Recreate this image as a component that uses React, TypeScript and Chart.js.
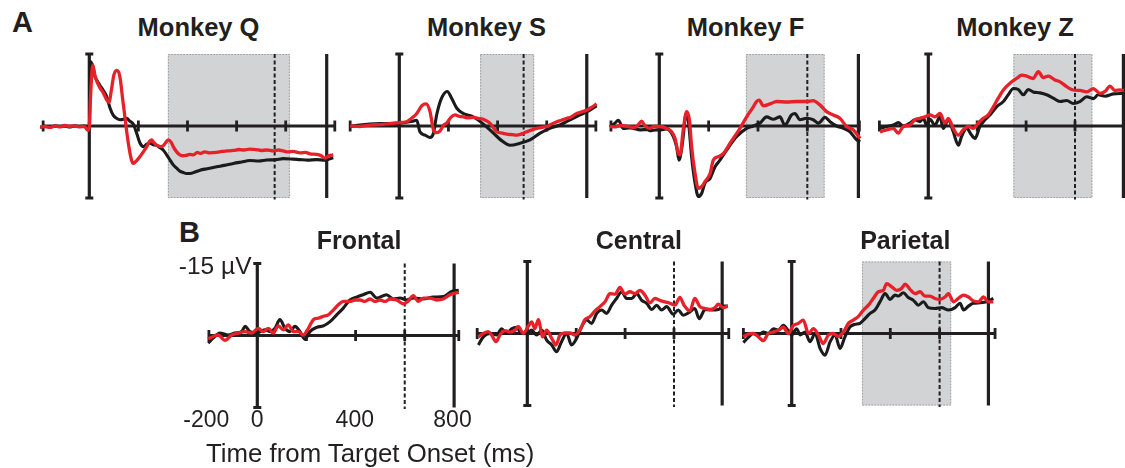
import React, { useEffect, useRef } from "react";
import { Chart, registerables } from "chart.js";

Chart.register(...registerables);

// ---------------- DATA (time in ms, amplitude in µV; negative is plotted upward) ----------------
// Monkey Q
const qRedT = [-200,-180,-160,-140,-120,-100,-80,-60,-40,-20,-6,0,5,14,23,30,43,57,71,80,90,100,111,120,127,135,145,159,172,179,193,206,220,234,247,254,262,274,290,301,315,322,335,342,356,369,383,396,410,424,440,451,470,490,519,540,560,587,610,630,654,680,700,722,750,770,790,810,830,858,880,900,926,945,960,975,994];
const qRedV = [0.2,0.1,0.3,0.0,0.2,-0.1,0.1,0.0,0.2,0.1,0.9,0.2,-6.0,-12.7,-10.5,-9.4,-8.0,-6.9,-5.4,-4.9,-7.5,-10.6,-11.6,-11.2,-9.5,-6.0,-1.9,3.6,7.1,7.8,7.2,6.4,5.4,4.3,3.1,2.9,3.4,4.0,4.3,4.1,3.2,2.9,3.5,4.3,5.4,6.0,6.2,6.1,5.9,6.0,5.5,5.7,5.4,5.6,5.5,5.3,5.2,5.1,4.9,5.0,4.8,4.9,5.1,5.0,5.2,5.0,5.2,5.4,5.3,5.6,5.5,5.8,5.9,6.2,6.7,6.2,6.0];
const qBlackT = [-200,-180,-160,-140,-120,-100,-80,-60,-40,-20,0,5,14,23,30,43,57,71,84,98,111,125,140,152,165,179,193,206,220,234,247,260,274,290,301,315,329,342,356,369,383,396,410,430,451,480,519,550,587,620,654,690,722,760,790,830,858,890,926,960,994];
const qBlackV = [0.3,0.1,0.2,0.0,0.1,0.0,0.2,0.0,0.1,0.0,0.2,-13.4,-12.5,-10.3,-9.6,-8.5,-7.4,-6.1,-3.8,-2.2,-1.6,-1.3,-1.4,-1.6,-1.0,-0.4,1.5,3.5,4.3,3.8,3.6,3.9,4.0,4.6,5.0,6.0,7.1,8.1,8.8,9.4,9.7,9.9,9.9,9.6,9.2,8.9,8.5,8.2,7.8,7.5,7.2,7.3,7.1,7.0,6.8,6.9,7.0,7.1,7.0,7.1,6.6];

// Monkey S
const sRedT = [-200,-160,-120,-80,-40,0,30,50,71,91,109,125,139,152,166,180,193,210,227,245,261,280,301,320,342,369,396,420,437,460,478,500,519,540,559,580,600,620,641,660,681,700,722,740,762,780,803];
const sRedV = [0.0,0.1,-0.2,-0.3,-0.5,-0.7,-0.9,-1.6,-2.6,-4.2,-4.6,-3.0,0.8,1.4,1.0,-0.2,-0.6,-1.8,-2.3,-2.0,-1.9,-1.7,-1.8,-1.6,-1.4,-0.6,1.2,1.5,1.7,1.8,1.9,1.6,1.2,0.8,0.5,0.3,0.1,-0.4,-0.9,-1.2,-1.6,-1.9,-2.6,-2.9,-3.3,-3.8,-4.6];
const sBlackT = [-200,-160,-120,-80,-40,0,30,55,71,84,105,125,139,152,172,195,213,234,261,301,342,383,423,450,491,532,573,613,654,695,736,776,803];
const sBlackV = [0.1,-0.2,-0.4,-0.5,-0.5,-0.6,-0.8,-1.0,-1.2,1.2,1.9,2.4,1.5,-2.3,-5.8,-7.2,-5.8,-3.7,-2.6,-1.9,-0.4,1.5,3.3,4.0,3.6,2.9,1.5,0.5,-0.2,-1.3,-2.3,-3.3,-4.2];

// Monkey F
const fRedT = [-200,-180,-160,-140,-120,-100,-85,-72,-60,-40,-20,0,30,50,64,77,84,97,111,122,131,145,158,172,185,206,219,239,260,287,327,354,381,394,405,422,449,476,516,557,597,624,651,678,705,732,759,786,814];
const fRedV = [0.1,0.2,-0.1,0.0,0.2,0.3,-0.3,-1.0,-0.2,0.5,0.1,0.1,0.5,1.2,2.6,5.7,6.0,0.8,-3.0,-1.3,4.3,9.9,13.0,12.6,11.6,9.9,7.1,6.4,5.7,3.6,0.5,-1.9,-4.0,-5.1,-5.4,-4.2,-4.6,-5.1,-5.0,-5.1,-5.1,-5.3,-4.4,-3.0,-2.3,-1.6,0.1,0.8,2.6];
const fBlackT = [-200,-180,-166,-146,-120,-105,-78,-50,-38,-11,0,30,57,70,80,90,97,108,118,131,145,158,172,185,206,226,246,273,314,354,381,408,435,462,489,509,536,550,570,597,624,645,672,692,719,746,773,800,814];
const fBlackV = [0.2,-0.6,-1.2,0.5,0.4,0.5,0.8,0.7,1.0,0.8,0.8,0.6,2.2,4.3,7.1,5.0,2.2,-2.5,-1.0,6.4,11.9,14.7,14.0,11.9,10.9,8.5,7.1,5.0,2.2,0.5,0.0,-0.6,-1.9,-1.4,-1.9,-0.2,-2.3,-2.6,-1.3,-1.6,-1.3,-0.6,-1.8,-0.9,0.0,0.5,1.2,2.9,3.3];

// Monkey Z
const zRedT = [-198,-170,-143,-123,-102,-75,-55,-34,-14,7,27,48,68,82,102,123,143,164,184,204,225,245,266,286,307,334,361,382,402,429,450,470,491,518,539,566,593,620,648,675,702,723,743,763,784,800];
const zRedV = [1.2,0.8,0.5,1.5,0.1,-0.2,-1.3,-1.6,-1.9,-2.3,-1.9,-2.6,-0.6,-1.6,0.5,1.9,0.8,0.1,0.5,-0.6,-1.6,-2.3,-4.0,-5.8,-7.5,-8.9,-9.9,-10.6,-10.4,-9.9,-11.3,-10.1,-10.4,-9.6,-9.2,-8.2,-7.5,-7.4,-7.1,-7.8,-6.8,-7.2,-8.3,-7.4,-7.5,-7.4];
const zBlackT = [-198,-170,-143,-123,-102,-75,-55,-34,-20,-7,7,27,48,61,82,102,123,136,157,177,191,211,232,252,279,307,327,348,368,389,409,429,457,484,511,539,566,593,620,648,675,695,723,757,798];
const zBlackV = [0.5,0.1,-0.2,-0.7,0.0,-0.6,-1.3,-0.9,-1.6,-0.2,-1.4,-0.2,-1.9,0.5,-1.3,1.2,4.0,2.2,0.5,1.9,2.6,0.1,-1.3,-2.3,-4.0,-5.1,-6.5,-7.8,-7.6,-6.5,-7.6,-7.1,-6.9,-6.5,-5.8,-5.1,-5.3,-4.7,-5.1,-6.1,-5.7,-6.5,-6.2,-6.7,-6.8];

// Frontal
const frRedT = [-200,-179,-159,-132,-104,-77,-50,-23,4,24,45,65,85,106,126,147,167,187,208,228,248,269,289,309,330,350,377,398,418,438,459,479,499,520,540,567,594,615,635,655,676,703,730,757,784,820];
const frRedV = [0.7,0.2,-0.1,1.0,-0.1,-0.5,-0.8,-0.5,-1.5,-0.8,-1.5,-0.5,-2.0,-1.2,-2.2,-0.8,-0.8,-0.1,-1.5,-3.3,-3.6,-4.0,-4.3,-5.3,-6.4,-7.1,-7.1,-7.4,-7.4,-7.1,-7.6,-7.1,-7.4,-7.1,-7.6,-7.4,-6.6,-7.2,-8.3,-7.1,-7.8,-7.8,-7.4,-7.6,-8.5,-9.0];
const frBlackT = [-200,-179,-152,-118,-91,-64,-50,-30,-3,31,52,72,92,113,133,153,174,194,214,242,269,296,323,350,377,404,431,459,486,526,554,581,608,635,676,716,757,791,820];
const frBlackV = [1.6,0.5,-0.5,-0.1,-0.5,-0.8,-1.9,-0.8,-0.5,-1.2,-0.8,-1.5,-3.3,-1.5,-0.8,-1.9,-0.8,0.8,-0.8,-1.7,-2.0,-2.9,-4.3,-5.7,-7.4,-8.0,-8.5,-9.0,-7.8,-8.5,-7.6,-7.8,-7.4,-7.8,-7.6,-8.0,-8.1,-9.2,-9.4];

// Central
const ceRedT = [-200,-180,-160,-146,-128,-112,-91,-71,-50,-37,-16,4,18,31,45,63,79,100,117,134,154,175,195,215,236,256,277,297,318,338,359,379,399,420,440,461,481,502,522,542,563,583,604,624,641,665,685,706,727,747,768,781,802,820];
const ceRedV = [0.7,0.0,-0.4,0.3,1.7,0.3,-0.6,-0.3,-0.7,-1.5,0.0,-1.5,-2.4,-1.0,-2.9,0.7,-0.7,1.0,2.4,0.3,-0.1,-0.1,0.3,-0.7,-2.9,-3.5,-4.7,-5.6,-6.6,-8.3,-8.2,-9.6,-8.2,-8.7,-8.3,-9.0,-8.0,-6.4,-7.3,-6.9,-6.6,-6.3,-5.9,-7.5,-5.9,-4.7,-7.3,-5.6,-5.2,-5.0,-5.4,-6.1,-5.4,-5.7];
const ceBlackT = [-200,-180,-153,-125,-105,-85,-64,-44,-23,-3,18,38,59,79,100,120,140,161,181,202,222,243,263,284,304,324,345,365,386,406,427,447,468,488,509,529,549,570,597,617,638,665,685,703,727,754,781,802,820];
const ceBlackV = [2.4,0.7,0.0,0.3,-1.0,0.0,-1.0,-1.3,0.0,0.0,-0.7,0.3,-0.7,1.4,2.4,3.8,1.7,0.0,2.4,1.0,-1.4,-2.8,-2.1,-4.2,-4.9,-4.2,-5.9,-7.3,-8.7,-7.3,-7.3,-8.3,-6.9,-6.3,-5.0,-5.9,-4.9,-5.6,-4.0,-4.9,-3.8,-4.5,-5.2,-3.1,-5.0,-4.9,-5.0,-5.7,-5.7];

// Parietal
const paRedT = [-196,-176,-156,-135,-115,-95,-74,-54,-34,-14,7,27,47,68,88,108,128,149,169,189,210,230,250,270,291,311,331,352,372,385,406,426,446,460,480,500,521,541,561,581,602,622,636,656,676,697,717,737,757,778,798,818];
const paRedV = [0.7,0.1,0.0,0.7,1.5,0.0,-0.3,-0.7,-1.3,0.0,-1.7,-2.1,-2.8,0.0,-1.0,0.3,2.1,0.3,0.0,0.6,-0.3,-2.1,-2.8,-3.5,-4.9,-5.9,-7.3,-8.7,-9.0,-10.4,-9.7,-9.0,-9.4,-10.3,-9.2,-8.3,-8.7,-7.8,-7.8,-7.3,-7.1,-7.6,-8.3,-6.6,-7.3,-8.0,-7.6,-6.8,-6.6,-7.6,-6.6,-6.6];
const paBlackT = [-196,-176,-156,-135,-115,-95,-74,-54,-34,-14,0,20,34,54,74,95,115,135,156,176,196,216,237,257,277,297,318,338,358,379,399,419,433,453,473,494,514,534,554,581,608,636,663,683,697,717,737,764,791,818];
const paBlackV = [1.9,0.8,0.0,0.3,-0.3,0.0,-1.0,-0.7,-1.7,-0.6,0.3,-1.0,0.3,-0.3,1.7,0.0,3.1,4.5,1.7,0.3,3.1,0.7,-1.4,-1.9,-2.1,-3.1,-4.2,-4.9,-6.6,-8.3,-7.1,-8.0,-7.8,-8.5,-7.5,-6.9,-5.9,-6.6,-5.4,-5.2,-5.4,-4.9,-5.4,-6.3,-4.9,-5.7,-6.3,-6.4,-6.6,-7.3];

// Titles and tick labels
const panelATitles = ["Monkey Q", "Monkey S", "Monkey F", "Monkey Z"];
const panelBTitles = ["Frontal", "Central", "Parietal"];
const xTickLabels = ["-200", "0", "400", "800"];
const yLimitLabel = "-15 µV";
const xAxisTitle = "Time from Target Onset (ms)";

// ---------------- LAYOUT / STYLE ----------------
const RED = "#e6212a";
const BLACK = "#1b1b1b";
const AXIS = "#231f20";
const BOX = "#d1d3d4";
const PX_PER_UV = 4.8;
const FONT = '"Liberation Sans", Arial, Helvetica, sans-serif';

type PanelCfg = {
  key: string;
  redT: number[]; redV: number[]; blackT: number[]; blackV: number[];
  x0: number; y0: number; k: number;
  axisStart: number; axisEnd: number; ticks: number[];
  rightLine: number; dashed: number; box: [number, number] | null;
};

const panels: PanelCfg[] = [
  { key: "Q", redT: qRedT, redV: qRedV, blackT: qBlackT, blackV: qBlackV, x0: 89.3, y0: 126, k: 0.2455, axisStart: -188, axisEnd: 1000, ticks: [200, 400, 600, 800], rightLine: 967, dashed: 755, box: [320, 817] },
  { key: "S", redT: sRedT, redV: sRedV, blackT: sBlackT, blackV: sBlackV, x0: 399.3, y0: 126, k: 0.2457, axisStart: -200, axisEnd: 800, ticks: [200, 400, 600], rightLine: 763, dashed: 506, box: [329, 549] },
  { key: "F", redT: fRedT, redV: fRedV, blackT: fBlackT, blackV: fBlackV, x0: 659.3, y0: 126, k: 0.2467, axisStart: -196, axisEnd: 811, ticks: [200, 400, 600], rightLine: 807, dashed: 600, box: [351, 670] },
  { key: "Z", redT: zRedT, redV: zRedV, blackT: zBlackT, blackV: zBlackV, x0: 928.3, y0: 126, k: 0.2445, axisStart: -200, axisEnd: 800, ticks: [200, 400, 600], rightLine: 798, dashed: 600, box: [348, 671] },
  { key: "Fr", redT: frRedT, redV: frRedV, blackT: frBlackT, blackV: frBlackV, x0: 257.3, y0: 335.5, k: 0.2457, axisStart: -197, axisEnd: 820, ticks: [200, 400, 600], rightLine: 801, dashed: 600, box: null },
  { key: "Ce", redT: ceRedT, redV: ceRedV, blackT: ceBlackT, blackV: ceBlackV, x0: 527.3, y0: 333.5, k: 0.2445, axisStart: -205, axisEnd: 824, ticks: [200, 400, 600], rightLine: 797, dashed: 600, box: null },
  { key: "Pa", redT: paRedT, redV: paRedV, blackT: paBlackT, blackV: paBlackV, x0: 791.7, y0: 333.5, k: 0.2465, axisStart: -196, axisEnd: 825, ticks: [200, 400, 600], rightLine: 798, dashed: 600, box: [285, 647] },
];

function rectFor(p: PanelCfg) {
  const left = Math.floor(p.x0 + (p.axisStart - 25) * p.k);
  const right = Math.min(1125, Math.ceil(p.x0 + (p.axisEnd + 25) * p.k));
  const top = Math.floor(p.y0 - 17 * PX_PER_UV);
  const bottom = Math.ceil(p.y0 + 17 * PX_PER_UV);
  return {
    left, top, w: right - left, h: bottom - top,
    xmin: (left - p.x0) / p.k, xmax: (right - p.x0) / p.k,
    ymin: (top - p.y0) / PX_PER_UV, ymax: (bottom - p.y0) / PX_PER_UV,
  };
}

function makeAxesPlugin(p: PanelCfg) {
  return {
    id: "erpAxes" + p.key,
    beforeDatasetsDraw(chart: any) {
      const xs = chart.scales.x;
      const ys = chart.scales.y;
      const X = (t: number) => xs.getPixelForValue(t);
      const Y = (v: number) => ys.getPixelForValue(v);
      const ctx: CanvasRenderingContext2D = chart.ctx;
      ctx.save();
      // shaded analysis window
      if (p.box) {
        const x1 = X(p.box[0]), x2 = X(p.box[1]), y1 = Y(-15), y2 = Y(15);
        ctx.fillStyle = BOX;
        ctx.fillRect(x1, y1, x2 - x1, y2 - y1);
        ctx.setLineDash([1.5, 1.5]);
        ctx.strokeStyle = "#9d9d9d";
        ctx.lineWidth = 1;
        ctx.strokeRect(x1 + 0.5, y1 + 0.5, x2 - x1 - 1, y2 - y1 - 1);
        ctx.setLineDash([]);
      }
      ctx.strokeStyle = AXIS;
      ctx.lineCap = "butt";
      const line = (xa: number, ya: number, xb: number, yb: number, w: number) => {
        ctx.lineWidth = w;
        ctx.beginPath();
        ctx.moveTo(xa, ya);
        ctx.lineTo(xb, yb);
        ctx.stroke();
      };
      const y0 = Y(0);
      // x axis
      line(X(p.axisStart), y0, X(p.axisEnd), y0, 3.2);
      for (const t of [p.axisStart, ...p.ticks, p.axisEnd]) {
        line(X(t), y0 - 5.5, X(t), y0 + 5.5, 2.8);
      }
      // y axis at time zero with caps
      const yt = Y(-15), yb = Y(15);
      line(X(0), yt, X(0), yb, 3.2);
      line(X(0) - 4, yt, X(0) + 4, yt, 3);
      line(X(0) - 4, yb, X(0) + 4, yb, 3);
      // right vertical line
      line(X(p.rightLine), yt, X(p.rightLine), yb, 3.2);
      // dashed line
      ctx.setLineDash([4, 2.5]);
      line(X(p.dashed), yt, X(p.dashed), Y(15.3), 2);
      ctx.setLineDash([]);
      ctx.restore();
    },
  };
}

function ErpPanel({ p }: { p: PanelCfg }) {
  const ref = useRef<HTMLCanvasElement | null>(null);
  const r = rectFor(p);
  useEffect(() => {
    if (!ref.current) return;
    const toXY = (ts: number[], vs: number[]) => ts.map((t, i) => ({ x: t, y: vs[i] }));
    const chart = new Chart(ref.current, {
      type: "line",
      data: {
        datasets: [
          { data: toXY(p.redT, p.redV), borderColor: RED, borderWidth: 3.3, pointRadius: 0, fill: false, tension: 0.4, cubicInterpolationMode: "monotone", borderJoinStyle: "round" } as any,
          { data: toXY(p.blackT, p.blackV), borderColor: BLACK, borderWidth: 3.1, pointRadius: 0, fill: false, tension: 0.4, cubicInterpolationMode: "monotone", borderJoinStyle: "round" } as any,
        ],
      },
      options: {
        responsive: false,
        animation: false,
        devicePixelRatio: 1,
        events: [],
        layout: { padding: 0 },
        plugins: { legend: { display: false }, tooltip: { enabled: false } },
        scales: {
          x: { type: "linear", display: false, min: r.xmin, max: r.xmax },
          y: { type: "linear", display: false, min: r.ymin, max: r.ymax, reverse: true },
        },
      },
      plugins: [makeAxesPlugin(p)],
    });
    return () => chart.destroy();
  }, []);
  return (
    <canvas
      ref={ref}
      width={r.w}
      height={r.h}
      style={{ position: "absolute", left: r.left, top: r.top, width: r.w, height: r.h }}
    />
  );
}

function Txt(props: { text: string; size: number; baseline: number; bold?: boolean; left?: number; center?: number; right?: number }) {
  const { text, size, baseline, bold } = props;
  const top = baseline - 0.8465 * size;
  const style: React.CSSProperties = {
    position: "absolute",
    top,
    fontFamily: FONT,
    fontSize: size,
    lineHeight: size + "px",
    fontWeight: bold ? 700 : 400,
    color: "#231f20",
    whiteSpace: "nowrap",
  };
  if (props.center !== undefined) {
    style.left = props.center - 150;
    style.width = 300;
    style.textAlign = "center";
  } else if (props.right !== undefined) {
    style.left = props.right - 200;
    style.width = 200;
    style.textAlign = "right";
  } else {
    style.left = props.left;
  }
  return <div style={style}>{text}</div>;
}

const aTitleCenters = [198.5, 486.5, 745.5, 1015];
const bTitleCenters = [359, 638.8, 905.3];
const tickCenters = [206.3, 257.2, 354.8, 452.5];

export default function App() {
  return (
    <div style={{ position: "absolute", left: 0, top: 0, width: 1125, height: 468, overflow: "hidden", background: "#ffffff" }}>
      {panels.map((p) => (
        <ErpPanel key={p.key} p={p} />
      ))}
      <Txt text="A" size={29} bold left={12} baseline={33} />
      {panelATitles.map((t, i) => (
        <Txt key={t} text={t} size={25.5} bold center={aTitleCenters[i]} baseline={37} />
      ))}
      <Txt text="B" size={29} bold left={179} baseline={243} />
      {panelBTitles.map((t, i) => (
        <Txt key={t} text={t} size={25} bold center={bTitleCenters[i]} baseline={249.5} />
      ))}
      {xTickLabels.map((t, i) => (
        <Txt key={t} text={t} size={23} center={tickCenters[i]} baseline={427} />
      ))}
      <Txt text={yLimitLabel} size={24.5} right={251.5} baseline={275} />
      <Txt text={xAxisTitle} size={25.8} left={206} baseline={463} />
    </div>
  );
}
